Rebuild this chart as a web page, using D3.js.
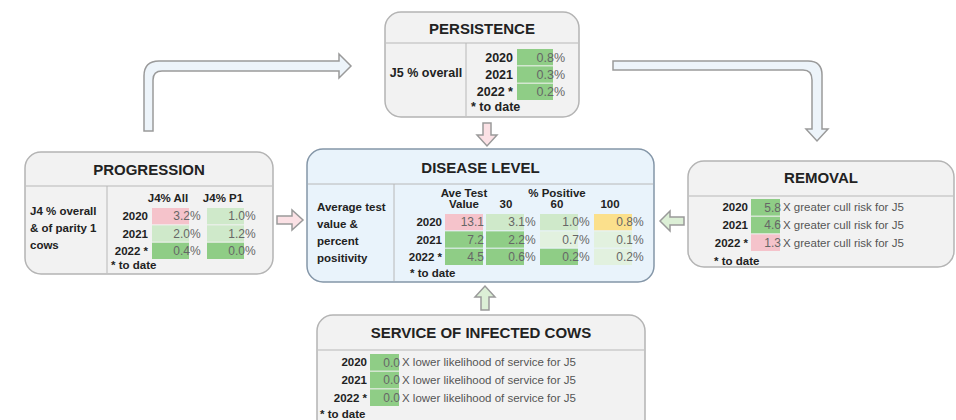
<!DOCTYPE html>
<style>
  body { margin: 0; background: #fff; }
  svg text { font-family: "Liberation Sans", Arial, sans-serif; }
  .box { fill: #f2f2f2; stroke: #b4b4b4; stroke-width: 1.5px; }
  .box.main { fill: #e9f3fb; stroke: #8496a8; }
  .divider { stroke: #b8b8b8; stroke-width: 1px; }
  .title { font-size: 15px; font-weight: bold; fill: #222; text-anchor: middle; }
  .lab { font-size: 11.5px; font-weight: bold; fill: #222; }
  .big .lab { font-size: 12.5px; }
  .val { font-size: 12px; fill: #666; }
  .big .val { font-size: 12.5px; }
  .note { font-size: 11.5px; fill: #555; }
  .arrow { fill: #edf4fa; stroke: #9a9a9a; stroke-width: 1.5px; }
</style>
<body>
<script src="https://d3js.org/d3.v7.min.js"></script>
<script>
// data
var years = ["2020", "2021", "2022 *"];

var persistence = [0.8, 0.3, 0.2];
var persistenceRating = ["good", "good", "good"];

var progAll = [3.2, 2.0, 0.4];
var progAllRating = ["bad", "fair", "good"];
var progP1 = [1.0, 1.2, 0.0];
var progP1Rating = ["fair", "fair", "good"];

var aveTest = [13.1, 7.2, 4.5];
var aveTestRating = ["bad", "good", "good"];
var pos30 = [3.1, 2.2, 0.6];
var pos30Rating = ["fair", "good", "good"];
var pos60 = [1.0, 0.7, 0.2];
var pos60Rating = ["fair", "mild", "good"];
var pos100 = [0.8, 0.1, 0.2];
var pos100Rating = ["warn", "mild", "mild"];

var removal = [5.8, 4.6, 1.3];
var removalRating = ["good", "good", "bad"];

var service = [0.0, 0.0, 0.0];
var serviceRating = ["good", "good", "good"];

var ratingColor = d3.scaleOrdinal()
    .domain(["bad", "warn", "good", "fair", "mild"])
    .range(["#f5c3cb", "#fbe08c", "#8fcd86", "#cfe9ca", "#e2f1df"]);

var svg = d3.select("body").append("svg")
    .attr("width", 956)
    .attr("height", 420);

// ---- connector arrows (behind boxes)
var arrows = svg.append("g");
arrows.append("path").attr("class", "arrow")
    .attr("d", "M144,131 V76 Q144,61 159,61 H339 V54 L351,66 L339,78 V71 H162 Q153,71 153,80 V131 Z");
arrows.append("path").attr("class", "arrow")
    .attr("d", "M613,61 H808 Q822,61 822,75 V129 H828 L817,141 L806,129 H812 V80 Q812,70 803,70 H613 Z");
arrows.append("path").attr("class", "arrow").style("fill", "#fbe1e5")
    .attr("d", "M277,216 H292 V210 L303,220 L292,230 V224 H277 Z");
arrows.append("path").attr("class", "arrow").style("fill", "#dcefd6")
    .attr("d", "M684,217 H670 V211 L660,221 L670,231 V225 H684 Z");
arrows.append("path").attr("class", "arrow").style("fill", "#fbe1e5")
    .attr("d", "M483,123 H491 V135 H497 L487,146 L477,135 H483 Z");
arrows.append("path").attr("class", "arrow").style("fill", "#dcefd6")
    .attr("d", "M481,310 H489 V297 H495 L485,286 L475,297 H481 Z");

// ---- helpers
function panel(x, y, w, h, title, titleY, divY, vDivX, main) {
  var g = svg.append("g");
  g.append("rect")
      .attr("class", main ? "box main" : "box")
      .attr("x", x).attr("y", y).attr("width", w).attr("height", h)
      .attr("rx", 16);
  g.append("line").attr("class", "divider")
      .attr("x1", x + 1).attr("x2", x + w - 1).attr("y1", divY).attr("y2", divY);
  if (vDivX) {
    g.append("line").attr("class", "divider")
        .attr("x1", vDivX).attr("x2", vDivX).attr("y1", divY).attr("y2", y + h - 1);
  }
  g.append("text").attr("class", "title")
      .attr("x", x + w / 2).attr("y", titleY).attr("dy", "0.35em")
      .text(title);
  return g;
}

function rowLabels(g, yScale, xRight, noteY, noteX) {
  g.selectAll(null).data(years).enter().append("text")
      .attr("class", "lab")
      .attr("x", xRight)
      .attr("y", function(d) { return yScale(d) + yScale.bandwidth() / 2; })
      .attr("dy", "0.35em")
      .attr("text-anchor", "end")
      .text(function(d) { return d; });
  g.append("text").attr("class", "lab")
      .attr("x", noteX).attr("y", noteY).attr("dy", "0.35em")
      .text("* to date");
}

function cells(g, yScale, x0, w, values, ratings, fmt, suffix) {
  var rows = years.map(function(d, i) { return { year: d, v: values[i], r: ratings[i] }; });
  g.selectAll(null).data(rows).enter().append("rect")
      .attr("x", x0)
      .attr("y", function(d) { return yScale(d.year); })
      .attr("width", w)
      .attr("height", yScale.bandwidth())
      .attr("fill", function(d) { return ratingColor(d.r); });
  g.selectAll(null).data(rows).enter().append("text")
      .attr("class", "val")
      .attr("x", x0 + w + 1)
      .attr("y", function(d) { return yScale(d.year) + yScale.bandwidth() / 2; })
      .attr("dy", "0.35em")
      .attr("text-anchor", "end")
      .text(function(d) { return d3.format(fmt)(d.v); });
  if (suffix) {
    g.selectAll(null).data(rows).enter().append("text")
        .attr("class", suffix === "%" ? "val" : "note")
        .attr("x", x0 + w + (suffix === "%" ? 1 : 3))
        .attr("y", function(d) { return yScale(d.year) + yScale.bandwidth() / 2; })
        .attr("dy", "0.35em")
        .text(suffix);
  }
}

function multiLine(g, lines, x, y0, step) {
  lines.forEach(function(t, i) {
    g.append("text").attr("class", "lab")
        .attr("x", x).attr("y", y0 + i * step).attr("dy", "0.35em")
        .text(t);
  });
}

// ---- PERSISTENCE
var pY = d3.scaleBand().domain(years).range([49, 100]).paddingInner(0.06);
var pG = panel(385, 12, 194, 105, "PERSISTENCE", 29, 43, 466).attr("class", "big");
pG.append("text").attr("class", "lab")
    .attr("x", 426).attr("y", 73).attr("dy", "0.35em")
    .attr("text-anchor", "middle").text("J5 % overall");
rowLabels(pG, pY, 513, 107, 471);
cells(pG, pY, 517, 36, persistence, persistenceRating, ".1f", "%");

// ---- PROGRESSION
var gY = d3.scaleBand().domain(years).range([208, 259]).paddingInner(0.06);
var gG = panel(25, 152, 248, 122, "PROGRESSION", 170, 186, 107);
multiLine(gG, ["J4 % overall", "& of parity 1", "cows"], 30, 211, 17);
var gCols = d3.scaleOrdinal().domain(["J4% All", "J4% P1"]).range([152, 207]);
gCols.domain().forEach(function(c) {
  gG.append("text").attr("class", "lab")
      .attr("x", gCols(c) + 16).attr("y", 198).attr("dy", "0.35em")
      .attr("text-anchor", "middle").text(c);
});
rowLabels(gG, gY, 148, 265, 111);
cells(gG, gY, gCols("J4% All"), 37, progAll, progAllRating, ".1f", "%");
cells(gG, gY, gCols("J4% P1"), 37, progP1, progP1Rating, ".1f", "%");

// ---- DISEASE LEVEL
var dY = d3.scaleBand().domain(years).range([214, 265]).paddingInner(0.06);
var dG = panel(307, 149, 347, 133, "DISEASE LEVEL", 168, 184, 394, true);
multiLine(dG, ["Average test", "value &", "percent", "positivity"], 317, 207, 17);
var dCols = d3.scaleBand().domain(["ave", "30", "60", "100"]).range([445, 649]).paddingInner(0);
dG.append("text").attr("class", "lab").attr("x", dCols("ave") + 19).attr("y", 193)
    .attr("dy", "0.35em").attr("text-anchor", "middle").text("Ave Test");
dG.append("text").attr("class", "lab").attr("x", dCols("ave") + 19).attr("y", 204)
    .attr("dy", "0.35em").attr("text-anchor", "middle").text("Value");
dG.append("text").attr("class", "lab").attr("x", 557).attr("y", 193)
    .attr("dy", "0.35em").attr("text-anchor", "middle").text("% Positive");
["30", "60", "100"].forEach(function(c) {
  dG.append("text").attr("class", "lab")
      .attr("x", dCols(c) + (c === "100" ? 12 : 10)).attr("y", 204).attr("dy", "0.35em")
      .attr("text-anchor", "middle").text(c);
});
rowLabels(dG, dY, 442, 273, 410);
cells(dG, dY, dCols("ave"), 38, aveTest, aveTestRating, ".1f", null);
cells(dG, dY, dCols("30") - 10, 38, pos30, pos30Rating, ".1f", "%");
cells(dG, dY, dCols("60") - 7, 38, pos60, pos60Rating, ".1f", "%");
cells(dG, dY, dCols("100") - 4, 38, pos100, pos100Rating, ".1f", "%");

// ---- REMOVAL
var rY = d3.scaleBand().domain(years).range([199, 251]).paddingInner(0.06);
var rG = panel(688, 161, 266, 106, "REMOVAL", 178, 196, null);
rowLabels(rG, rY, 748, 261, 714);
cells(rG, rY, 751, 29, removal, removalRating, ".1f", "X greater cull risk for J5");

// ---- SERVICE OF INFECTED COWS
var sY = d3.scaleBand().domain(years).range([354, 406]).paddingInner(0.06);
var sG = panel(317, 315, 328, 120, "SERVICE OF INFECTED COWS", 333, 350, null);
rowLabels(sG, sY, 367, 414, 320);
cells(sG, sY, 370, 29, service, serviceRating, ".1f", "X lower likelihood of service for J5");
</script>
</body>
